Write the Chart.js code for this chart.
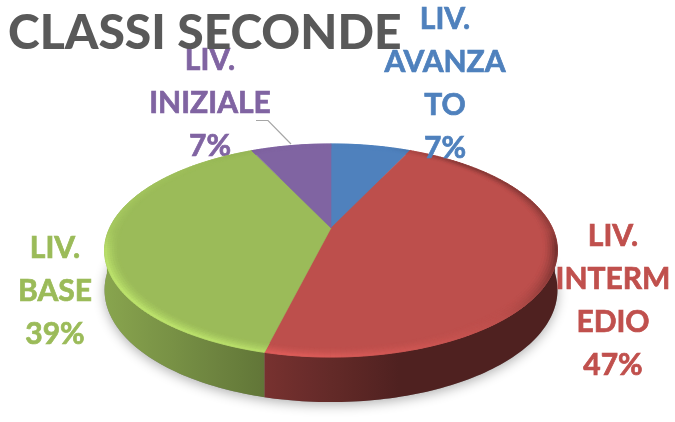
<!DOCTYPE html>
<html><head><meta charset="utf-8">
<style>html,body{margin:0;padding:0;background:#fff}canvas{display:block}</style>
<script src="https://cdn.jsdelivr.net/npm/chart.js@4"></script>
</head><body><canvas id="c" width="675" height="422"></canvas>
<script>
const categories = ["LIV. AVANZATO", "LIV. INTERMEDIO", "LIV. BASE", "LIV. INIZIALE"];
const values = [7, 46.85, 39.15, 7];
const colors = ["#4f81bd", "#bd4f4c", "#9bbb59", "#8064a2"];
const labelLines = [["LIV.", "AVANZA", "TO", "7%"], ["LIV.", "INTERM", "EDIO", "47%"], ["LIV.", "BASE", "39%"], ["LIV.", "INIZIALE", "7%"]];
const labelPos = [[445, 19], [613, 236], [55, 248], [210, 60]];
const LABEL_FONT = "bold 30px Lato", LINE_H = 43;

// projection of the flat pie circle onto the tilted 3D view
const KX = 1.141, KY = 0.525, PERSP = -0.211;
function proj(el, a, r, t) {
  const u = r * Math.sin(a), v = -r * Math.cos(a), d = 1 + PERSP * v, R = el.outerRadius;
  return [el.x + KX * R * u / d, el.y + KY * R * v / d + t * (38 + 7 * v)];
}
function rgb(hex, f) {
  const n = parseInt(hex.slice(1), 16);
  const c = [n >> 16, (n >> 8) & 255, n & 255].map(x => Math.min(255, Math.round(x * f)));
  return `rgb(${c[0]},${c[1]},${c[2]})`;
}
const clamp = x => Math.max(0, Math.min(1, x));
function quad(ctx, p, col) {
  ctx.beginPath(); ctx.moveTo(...p[0]); p.slice(1).forEach(q => ctx.lineTo(...q)); ctx.closePath();
  ctx.fillStyle = col; ctx.strokeStyle = col; ctx.lineWidth = 0.7; ctx.fill(); ctx.stroke();
}
function drawSlice(ctx) {
  const el = this, a0 = el.startAngle + Math.PI / 2, a1 = el.endAngle + Math.PI / 2;
  const base = el.options.backgroundColor, n = Math.max(4, Math.ceil((a1 - a0) / 0.02)), da = (a1 - a0) / n;
  ctx.save();
  // side wall, one path with a horizontal gradient
  const W = KX * el.outerRadius / 0.977;
  const grad = ctx.createLinearGradient(el.x - W, 0, el.x + W, 0);
  for (let k = 0; k <= 20; k++) {
    const u = -1 + k / 10;
    grad.addColorStop(k / 20, rgb(base, 0.42 + 0.46 * clamp((0.3 - u) / 1.3)));
  }
  const front = [];
  for (let i = 0; i <= n; i++) {
    const a = a0 + i * da;
    if (-Math.cos(a) > 0.05) front.push(a);
  }
  if (front.length > 1) {
    ctx.beginPath();
    front.forEach((a, i) => { const p = proj(el, a, 1, 0); i ? ctx.lineTo(...p) : ctx.moveTo(...p); });
    front.slice().reverse().forEach(a => ctx.lineTo(...proj(el, a, 1, 1)));
    ctx.closePath();
    ctx.fillStyle = grad; ctx.fill();
  }
  // flat top
  ctx.beginPath();
  ctx.moveTo(el.x, el.y);
  for (let i = 0; i <= n; i++) ctx.lineTo(...proj(el, a0 + i * da, 1, 0));
  ctx.closePath();
  ctx.fillStyle = base; ctx.strokeStyle = base; ctx.lineWidth = 0.6; ctx.fill(); ctx.stroke();
  // bevel along the rim
  const rings = 6, inner = 0.94;
  for (let i = 0; i < n; i++) {
    const a = a0 + i * da, b = a + da, u = Math.sin(a + da / 2), v = -Math.cos(a + da / 2);
    const w = Math.max(clamp((v + 0.1) / 0.3), 0.45 * clamp((Math.abs(u) - 0.3) / 0.4));
    const s = w * (-0.75 * u + 0.65 * v);
    for (let k = 0; k < rings; k++) {
      const r0 = inner + (1 - inner) * k / rings, r1 = inner + (1 - inner) * (k + 1) / rings;
      const prof = Math.pow((k + 0.5) / rings, 1.5);
      const f = 1 + (s > 0 ? 0.24 : 0.72) * s * prof;
      quad(ctx, [proj(el, a, r0, 0), proj(el, b, r0, 0), proj(el, b, r1, 0), proj(el, a, r1, 0)], rgb(base, f));
    }
  }
  ctx.restore();
}
function drawLabel(ctx, i) {
  ctx.save();
  ctx.font = LABEL_FONT; ctx.textAlign = "center"; ctx.textBaseline = "middle";
  ctx.fillStyle = i === 1 ? "#c0504d" : colors[i];
  ctx.strokeStyle = ctx.fillStyle; ctx.lineWidth = 0.7;
  labelLines[i].forEach((t, j) => {
    ctx.fillText(t, labelPos[i][0], labelPos[i][1] + j * LINE_H);
    ctx.strokeText(t, labelPos[i][0], labelPos[i][1] + j * LINE_H);
  });
  ctx.restore();
}
const pie3d = {
  id: "pie3d",
  afterDatasetUpdate(chart) {
    chart.getDatasetMeta(0).data.forEach(el => { el.draw = drawSlice; });
  },
  beforeDraw(chart) { drawLabel(chart.ctx, 3); },
  beforeDatasetsDraw(chart) {
    const el = chart.getDatasetMeta(0).data[0], ctx = chart.ctx;
    ctx.save();
    ctx.shadowColor = "rgba(0,0,0,0.30)"; ctx.shadowBlur = 12; ctx.shadowOffsetY = 3;
    ctx.fillStyle = "#888";
    ctx.beginPath();
    for (let i = 0; i <= 180; i++) {
      const p = proj(el, i / 180 * 2 * Math.PI, 1, 1);
      i ? ctx.lineTo(...p) : ctx.moveTo(...p);
    }
    ctx.closePath(); ctx.fill();
    ctx.restore();
  },
  afterDatasetsDraw(chart) {
    const ctx = chart.ctx;
    [0, 1, 2].forEach(i => drawLabel(ctx, i));
    // leader line of the small slice
    ctx.save();
    ctx.strokeStyle = "#a6a6a6"; ctx.lineWidth = 1.2;
    ctx.beginPath(); ctx.moveTo(256, 120.5); ctx.lineTo(268, 120.5); ctx.lineTo(291, 144); ctx.stroke();
    ctx.restore();
  }
};
new Chart(document.getElementById("c"), {
  type: "pie",
  data: { labels: categories, datasets: [{ data: values, backgroundColor: colors, borderWidth: 0 }] },
  options: {
    responsive: false, animation: false,
    layout: { padding: { left: 8, right: 21, top: 0, bottom: 0 } },
    plugins: {
      legend: { display: false }, tooltip: { enabled: false },
      title: {
        display: true, text: "CLASSI SECONDE", align: "start", color: "#595959",
        font: { family: "Lato", weight: "900", size: 48, lineHeight: 1.2 },
        padding: { top: 5, bottom: -28.6 }
      }
    }
  },
  plugins: [pie3d]
});
</script></body></html>
